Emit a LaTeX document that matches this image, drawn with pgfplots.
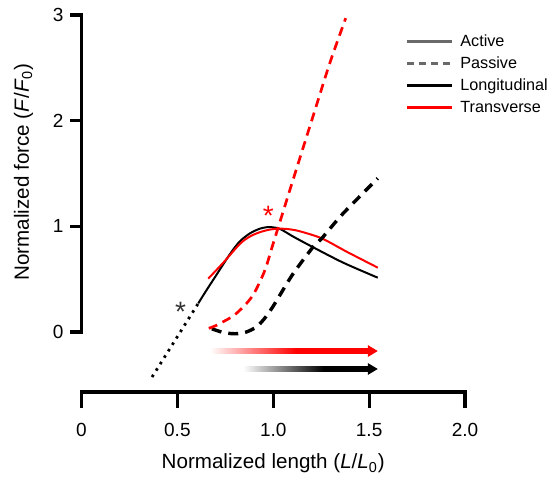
\documentclass[border=0pt]{standalone}
\usepackage{pgfplots}
\pgfplotsset{compat=1.18}
\usepackage{fontspec}
\setmainfont{Liberation Sans}
\pgfdeclarehorizontalshading{redfade}{100bp}{color(0bp)=(white); color(25bp)=(white); color(52bp)=(red); color(100bp)=(red)}
\pgfdeclarehorizontalshading{blackfade}{100bp}{color(0bp)=(white); color(25bp)=(white); color(57bp)=(black); color(100bp)=(black)}
\definecolor{lgray}{RGB}{105,105,105}
\begin{document}
\begin{tikzpicture}
\begin{axis}[
 scale only axis, width=191.75pt, height=188.5pt,
 xmin=0, xmax=2, ymin=-0.568, ymax=3,
 clip=false,
 axis x line*=bottom, axis y line*=left,
 axis line style={draw=none},
 major tick length=0pt,
 xtick={0,0.5,1,1.5,2}, xticklabels={0,0.5,1.0,1.5,2.0},
 ytick={0,1,2,3},
 /pgf/number format/assume math mode=true,
 ticklabel style={font=\fontsize{9.5}{11}\selectfont},
 xticklabel style={anchor=north, yshift=-12.2pt},
 yticklabel style={anchor=east, xshift=-5.5pt},
 legend style={draw=none, fill=none, at={(axis cs:1.687,2.842)}, anchor=north west,
   font=\fontsize{8.1}{9.5}\selectfont, inner sep=0pt, row sep=1.5pt,
   nodes={inner sep=1pt, text height=6pt, text depth=1.5pt},
   /tikz/every odd column/.append style={column sep=2.5pt}},
 legend cell align=left,
 legend image code/.code={\draw[#1] (0pt,0pt) -- (22.5pt,0pt);},
]
\addlegendimage{lgray, line width=1.5pt}
\addlegendentry{Active}
\addlegendimage{lgray, line width=1.5pt, dash pattern=on 3.5pt off 2.5pt}
\addlegendentry{Passive}
\addlegendimage{black, line width=1.5pt}
\addlegendentry{Longitudinal}
\addlegendimage{red, line width=1.5pt}
\addlegendentry{Transverse}

% Longitudinal active (extrapolated, dotted)
\addplot[black, line width=1.4pt, dash pattern=on 1.3pt off 2.5pt, forget plot] coordinates {
(0.368,-0.426) (0.609,0.271)};
% Longitudinal active
\addplot[black, line width=1pt, smooth, forget plot] coordinates {
(0.609,0.271) (0.65,0.39) (0.70,0.53) (0.739,0.64) (0.783,0.76) (0.827,0.86)
(0.88,0.935) (0.931,0.978) (0.980,0.993) (1.035,0.975) (1.105,0.902)
(1.209,0.801) (1.365,0.656) (1.545,0.514)};
% Transverse active
\addplot[red, line width=1pt, smooth, forget plot] coordinates {
(0.661,0.505) (0.739,0.655) (0.827,0.835) (0.88,0.905) (0.931,0.945)
(0.985,0.970) (1.035,0.978) (1.085,0.972) (1.139,0.953) (1.253,0.886)
(1.383,0.760) (1.545,0.609)};
% Longitudinal passive
\addplot[black, line width=1.7pt, smooth, dash pattern=on 5pt off 3.5pt, forget plot] coordinates {
(0.680,0.030) (0.73,0.0) (0.78,-0.015) (0.818,-0.015) (0.86,0.0) (0.914,0.050)
(0.960,0.140) (1.0,0.245) (1.035,0.350) (1.105,0.555) (1.209,0.807)
(1.253,0.886) (1.365,1.123) (1.545,1.454)};
% Transverse passive
\addplot[red, line width=1.35pt, smooth, dash pattern=on 4.5pt off 3pt, forget plot] coordinates {
(0.664,0.035) (0.700,0.060) (0.740,0.098) (0.790,0.150) (0.827,0.208)
(0.870,0.290) (0.905,0.382) (0.957,0.587) (1.0,0.839) (1.05,1.13)
(1.105,1.45) (1.209,2.05) (1.296,2.55) (1.378,2.97)};

% spines and ticks
\draw[line width=1.6pt] ([yshift=-8pt]axis cs:0,-0.568) -- (axis cs:0,-0.568) -- (axis cs:2,-0.568) -- ([yshift=-8pt]axis cs:2,-0.568);
\draw[line width=1.6pt] (axis cs:0.5,-0.568) -- ([yshift=-8pt]axis cs:0.5,-0.568);
\draw[line width=1.6pt] (axis cs:1,-0.568) -- ([yshift=-8pt]axis cs:1,-0.568);
\draw[line width=1.6pt] (axis cs:1.5,-0.568) -- ([yshift=-8pt]axis cs:1.5,-0.568);
\draw[line width=1.6pt] ([xshift=-5.5pt]axis cs:0,0) -- (axis cs:0,0) -- (axis cs:0,3) -- ([xshift=-5.5pt]axis cs:0,3);
\draw[line width=1.6pt] (axis cs:0,1) -- ([xshift=-5.5pt]axis cs:0,1);
\draw[line width=1.6pt] (axis cs:0,2) -- ([xshift=-5.5pt]axis cs:0,2);

% length-change arrows
\shade[shading=redfade] ([yshift=-1.2pt]axis cs:0.670,-0.18) rectangle ([yshift=1.2pt]axis cs:1.50,-0.18);
\fill[red] (axis cs:1.545,-0.18) -- ([yshift=3pt]axis cs:1.493,-0.18) -- ([yshift=-3pt]axis cs:1.493,-0.18) -- cycle;
\shade[shading=blackfade] ([yshift=-1.2pt]axis cs:0.843,-0.35) rectangle ([yshift=1.2pt]axis cs:1.50,-0.35);
\fill[black] (axis cs:1.545,-0.35) -- ([yshift=3pt]axis cs:1.493,-0.35) -- ([yshift=-3pt]axis cs:1.493,-0.35) -- cycle;

% asterisks
\node[font=\fontsize{14}{14}\selectfont, text=black!80, yshift=-3pt] at (axis cs:0.517,0.246) {*};
\node[font=\fontsize{14}{14}\selectfont, text=red, yshift=-3pt] at (axis cs:0.974,1.155) {*};

% axis labels
\node[font=\fontsize{10.3}{12}\selectfont, anchor=base] at (axis cs:1,-1.296) {Normalized length (\textit{L}/\textit{L}\textsubscript{0})};
\node[font=\fontsize{10.3}{12}\selectfont, rotate=90, anchor=base] at (axis cs:-0.274,1.514) {Normalized force (\textit{F}/\textit{F}\textsubscript{0})};

\coordinate (BL) at (axis cs:-0.425,-1.382);
\coordinate (TR) at (axis cs:2.433,3.142);
\end{axis}
\pgfresetboundingbox
\path[use as bounding box] (BL) rectangle (TR);
\end{tikzpicture}
\end{document}
